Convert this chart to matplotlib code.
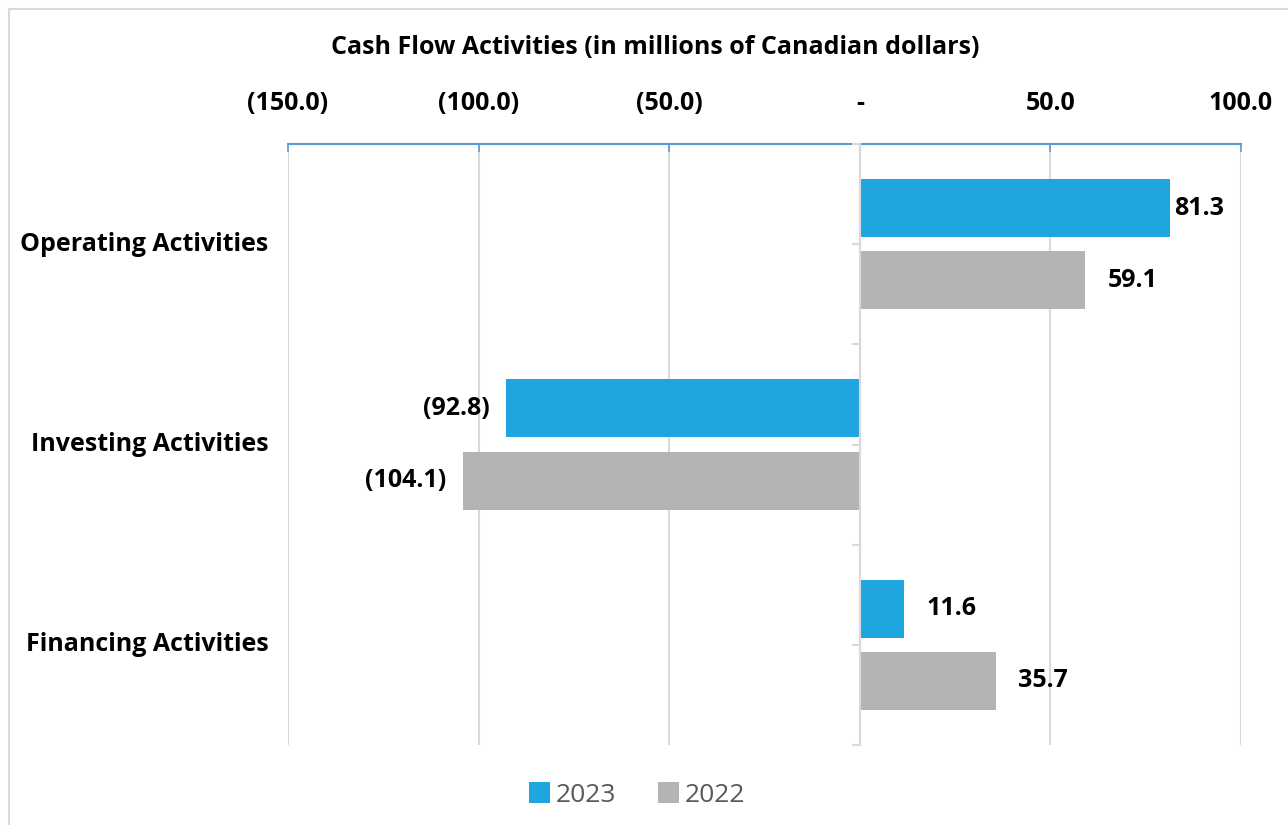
import matplotlib
matplotlib.use("Agg")
import matplotlib.pyplot as plt
from matplotlib.patches import Rectangle, Patch
from matplotlib.ticker import FixedLocator

plt.rcParams['font.family'] = ['Open Sans', 'DejaVu Sans']

categories = ["Operating Activities", "Investing Activities", "Financing Activities"]
series_names = ["2023", "2022"]
values_2023 = [81.3, -92.8, 11.6]
values_2022 = [59.1, -104.1, 35.7]
xticks = [-150, -100, -50, 0, 50, 100]
xtick_labels = ["(150.0)", "(100.0)", "(50.0)", "-", "50.0", "100.0"]

c2023 = "#1FA5DF"
c2022 = "#B3B4B3"
grid_c = "#D9D9D9"
spine_blue = "#5B9BD5"

W, H = 1288, 825
fig = plt.figure(figsize=(W / 100, H / 100), dpi=100)
fig.patch.set_facecolor("white")

# outer frame of the chart area
fig.add_artist(Rectangle((9 / W, -0.1), 1.2, 1 - 9 / H + 0.1, transform=fig.transFigure,
                         fill=False, edgecolor="#D9D9D9", linewidth=1.5))

left, right = 288 / W, 1241 / W
top, bottom = 1 - 144 / H, 1 - 745 / H
ax = fig.add_axes([left, bottom, right - left, top - bottom])

n = len(categories)
centers = list(range(n))
h = 0.29
off = 0.18
FS = 18

def fmt(v):
    return f"({abs(v):.1f})" if v < 0 else f"{v:.1f}"

bars23 = ax.barh([c - off for c in centers], values_2023, height=h, color=c2023, zorder=3)
bars22 = ax.barh([c + off for c in centers], values_2022, height=h, color=c2022, zorder=3)

ax.set_xlim(-150, 100)
ax.set_ylim(n - 0.5, -0.5)

# data labels
for bars, vals in ((bars23, values_2023), (bars22, values_2022)):
    for b, v in zip(bars, vals):
        y = b.get_y() + b.get_height() / 2
        pad = 16 if v >= 0 else -12
        if v > 75:
            pad = 3
        ax.annotate(fmt(v), xy=(v, y), xytext=(pad, 0), textcoords="offset points",
                    ha="left" if v >= 0 else "right", va="center",
                    fontsize=FS, fontweight="bold", color="black", zorder=4)

# x axis on top
ax.xaxis.tick_top()
ax.set_xticks(xticks)
ax.set_xticklabels(xtick_labels, fontsize=FS, fontweight="bold")
ax.tick_params(axis="x", direction="in", length=6, color=spine_blue, width=1.2, pad=20)
ax.grid(axis="x", color=grid_c, linewidth=1.5, zorder=0)
for s in ("left", "right", "bottom"):
    ax.spines[s].set_visible(False)
ax.spines["top"].set_color(spine_blue)
ax.spines["top"].set_linewidth(1.5)

# category labels
ax.set_yticks(centers)
ax.set_yticklabels(categories, fontsize=FS, fontweight="bold", va="center")
ax.tick_params(axis="y", length=0, pad=14)

# vertical zero axis with small ticks between bars
ax2 = ax.twinx()
ax2.set_ylim(ax.get_ylim())
for s in ("top", "right", "bottom"):
    ax2.spines[s].set_visible(False)
ax2.spines["left"].set_visible(True)
ax2.spines["left"].set_position(("data", 0))
ax2.spines["left"].set_color(grid_c)
ax2.spines["left"].set_linewidth(1.5)
ax2.yaxis.set_ticks_position("left")
ax2.yaxis.set_major_locator(FixedLocator([c + d for c in centers for d in (-0.5, 0.0)] + [n - 0.5]))
ax2.tick_params(axis="y", length=6, color=grid_c, width=1.5, labelleft=False, labelright=False)
ax2.set_xlim(ax.get_xlim())

# title
fig.text(655 / W, 1 - 48 / H, "Cash Flow Activities (in millions of Canadian dollars)",
         ha="center", va="center", fontsize=FS, fontweight="bold", color="black")

# legend
handles = [Patch(facecolor=c2023, label=series_names[0]), Patch(facecolor=c2022, label=series_names[1])]
fig.legend(handles=handles, loc="center", bbox_to_anchor=(637 / W, 1 - 795 / H), ncol=2,
           frameon=False, handlelength=0.8, handleheight=0.8, handletextpad=0.2,
           columnspacing=1.6, labelcolor="#595959",
           prop={"family": ["Open Sans", "DejaVu Sans"], "size": 19})

fig.savefig("out.png", dpi=100, facecolor="white")
